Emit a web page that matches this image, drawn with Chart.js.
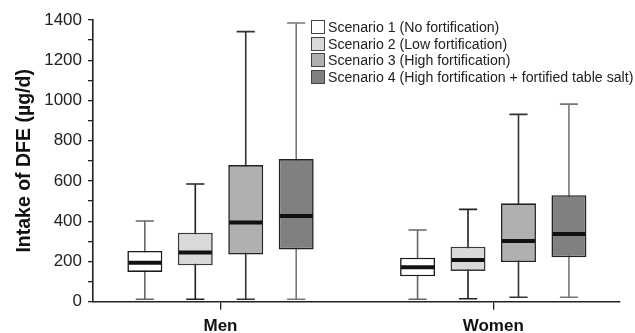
<!DOCTYPE html>
<html>
<head>
<meta charset="utf-8">
<script src="https://cdn.jsdelivr.net/npm/chart.js@4.4.1/dist/chart.umd.min.js"></script>
<style>
  html, body { margin: 0; padding: 0; background: #fff; }
  #wrap { position: relative; width: 635px; height: 333px; }
  #legend { position: absolute; left: 311px; top: 18.6px; font-family: 'Liberation Sans', Arial, sans-serif; font-size: 14.15px; color: #222; }
  .row { display: flex; align-items: center; height: 16.7px; white-space: nowrap; }
  .sw { width: 12px; height: 12px; border: 1px solid #444; margin-right: 3px; box-sizing: content-box; }
</style>
</head>
<body>
<div id="wrap">
  <canvas id="c" width="635" height="333"></canvas>
  <div id="legend"></div>
</div>
<script>
const categories = ['Men', 'Women'];
const scenarioLabels = [
  'Scenario 1 (No fortification)',
  'Scenario 2 (Low fortification)',
  'Scenario 3 (High fortification)',
  'Scenario 4 (High fortification + fortified table salt)'
];
// values per scenario: [Men, Women]
const whiskerLow  = [[12, 12], [12, 15], [12, 22], [12, 22]];
const quartile1   = [[148, 126], [181, 153], [235, 197], [260, 221]];
const medianVals  = [[194, 171], [245, 207], [393, 302], [426, 336]];
const quartile3   = [[252, 219], [343, 273], [679, 489], [709, 529]];
const whiskerHigh = [[401, 356], [585, 459], [1342, 931], [1385, 982]];
const yTicks = [0, 200, 400, 600, 800, 1000, 1200, 1400];

const fills = ['#ffffff', '#d9d9d9', '#b0b0b0', '#808080'];
const borders = ['#1a1a1a', '#3a3a3a', '#222222', '#222222'];
const whiskerColors = ['#666666', '#222222', '#333333', '#777777'];

const datasets = scenarioLabels.map((lab, s) => ({
  label: lab,
  data: categories.map((c, i) => ({ x: i, y: [quartile1[s][i], quartile3[s][i]] })),
  backgroundColor: fills[s],
  borderColor: borders[s],
  borderWidth: 1.6,
  borderSkipped: false,
  categoryPercentage: 0.74,
  barPercentage: 0.693
}));

const boxPlugin = {
  id: 'boxWhiskers',
  beforeDatasetsDraw(chart) {
    const ctx = chart.ctx, y = chart.scales.y;
    chart.data.datasets.forEach((ds, s) => {
      const meta = chart.getDatasetMeta(s);
      meta.data.forEach((bar, i) => {
        const x = bar.x, w = bar.width;
        const yl = y.getPixelForValue(whiskerLow[s][i]);
        const yh = y.getPixelForValue(whiskerHigh[s][i]);
        ctx.save();
        ctx.strokeStyle = whiskerColors[s];
        ctx.lineWidth = 1.6;
        ctx.beginPath();
        ctx.moveTo(x, yl); ctx.lineTo(x, yh);
        const cw = w * 0.26;
        ctx.moveTo(x - cw, yl); ctx.lineTo(x + cw, yl);
        ctx.moveTo(x - cw, yh); ctx.lineTo(x + cw, yh);
        ctx.stroke();
        ctx.restore();
      });
    });
  },
  afterDatasetsDraw(chart) {
    const ctx = chart.ctx, y = chart.scales.y;
    chart.data.datasets.forEach((ds, s) => {
      const meta = chart.getDatasetMeta(s);
      meta.data.forEach((bar, i) => {
        const x = bar.x, w = bar.width;
        const ym = y.getPixelForValue(medianVals[s][i]);
        ctx.save();
        ctx.strokeStyle = '#111111';
        ctx.lineWidth = 4;
        ctx.beginPath();
        ctx.moveTo(x - w / 2 + 1, ym); ctx.lineTo(x + w / 2 - 1, ym);
        ctx.stroke();
        ctx.restore();
      });
    });
  }
};

new Chart(document.getElementById('c'), {
  type: 'bar',
  data: { datasets },
  options: {
    responsive: false,
    animation: false,
    layout: { padding: { top: 20, right: 15, left: 0, bottom: 0 } },
    plugins: { legend: { display: false }, tooltip: { enabled: false } },
    scales: {
      x: {
        type: 'linear',
        offset: false,
        min: -0.4675,
        max: 1.4647,
        afterBuildTicks(scale) { scale.ticks = categories.map((c, i) => ({ value: i })); },
        afterFit(scale) { scale.height = 31.3; },
        ticks: {
          callback: (v) => categories[v] !== undefined ? categories[v] : '',
          font: { family: "'Liberation Sans', Arial, sans-serif", size: 17, weight: 'bold' },
          color: '#111',
          padding: 6,
          autoSkip: false,
          maxRotation: 0
        },
        grid: { display: true, offset: false, drawOnChartArea: false, drawTicks: true, tickLength: 8, color: '#222', lineWidth: 1.3 },
        border: { display: true, color: '#222', width: 1.6 }
      },
      y: {
        min: 0,
        max: 1400,
        afterFit(scale) { scale.width = 93; },
        ticks: {
          stepSize: 100,
          autoSkip: false,
          callback: (v) => yTicks.includes(v) ? String(v) : '',
          font: { family: "'Liberation Sans', Arial, sans-serif", size: 17 },
          color: '#222',
          padding: 6
        },
        grid: { display: true, drawOnChartArea: false, drawTicks: true, tickLength: 5, color: '#222', lineWidth: 1.3 },
        border: { display: true, color: '#222', width: 1.6 },
        title: {
          display: true,
          text: 'Intake of DFE (µg/d)',
          font: { family: "'Liberation Sans', Arial, sans-serif", size: 19.5, weight: 'bold' },
          color: '#111',
          padding: { top: 13, bottom: 0 }
        }
      }
    }
  },
  plugins: [boxPlugin]
});

const leg = document.getElementById('legend');
scenarioLabels.forEach((lab, s) => {
  const row = document.createElement('div');
  row.className = 'row';
  const sw = document.createElement('span');
  sw.className = 'sw';
  sw.style.background = fills[s];
  const t = document.createElement('span');
  t.textContent = lab;
  row.appendChild(sw); row.appendChild(t);
  leg.appendChild(row);
});
</script>
</body>
</html>
